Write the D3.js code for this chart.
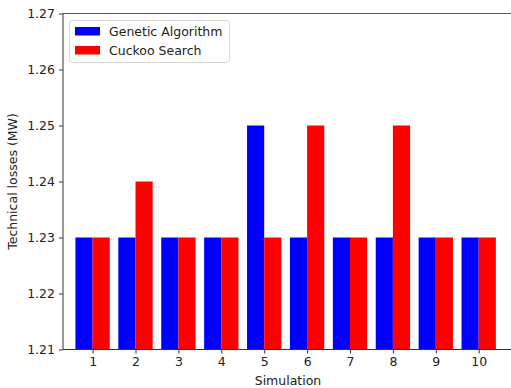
<!DOCTYPE html>
<html>
<head>
<meta charset="utf-8">
<script src="https://cdn.jsdelivr.net/npm/d3@7"></script>
<style>
  body { margin: 0; background: #fff; }
  text { font-family: "DejaVu Sans", sans-serif; fill: #222; }
</style>
</head>
<body>
<script>
var simulations = [1, 2, 3, 4, 5, 6, 7, 8, 9, 10];
var geneticAlgorithm = [1.23, 1.23, 1.23, 1.23, 1.25, 1.23, 1.23, 1.23, 1.23, 1.23];
var cuckooSearch = [1.23, 1.24, 1.23, 1.23, 1.23, 1.25, 1.23, 1.25, 1.23, 1.23];
var yTicks = [1.21, 1.22, 1.23, 1.24, 1.25, 1.26, 1.27];
var seriesNames = ["Genetic Algorithm", "Cuckoo Search"];
var seriesColors = ["#0000ff", "#ff0000"];

var width = 511, height = 388;
var plotLeft = 63, plotTop = 13.5, plotBottom = 349.5;
var unit = 42.9; // px per simulation step
var barW = 0.4;

var svg = d3.select("body").append("svg")
    .attr("width", width)
    .attr("height", height);

// setup scales
var xScale = d3.scaleLinear().domain([0.31, 10.9]).range([plotLeft, plotLeft + 10.59 * unit]);
var yScale = d3.scaleLinear().domain([1.21, 1.27]).range([plotBottom, plotTop]);

// bars
var series = [geneticAlgorithm, cuckooSearch];
series.forEach(function (vals, s) {
    svg.append("g").selectAll("rect")
        .data(vals)
        .enter().append("rect")
        .attr("x", function (d, i) { return xScale(simulations[i] + (s - 1) * barW); })
        .attr("width", xScale(barW) - xScale(0))
        .attr("y", function (d) { return yScale(d); })
        .attr("height", function (d) { return yScale(1.21) - yScale(d); })
        .style("fill", seriesColors[s]);
});

// y-axis
var yAxis = d3.axisLeft(yScale).tickValues(yTicks).tickFormat(d3.format(".2f")).tickSize(4).tickPadding(4);
var gy = svg.append("g")
    .attr("transform", "translate(" + plotLeft + ",0)")
    .call(yAxis);
gy.select(".domain").remove();
gy.selectAll("text").style("font-size", "12.5px");
gy.selectAll("line").attr("stroke", "#333");

// x-axis
var xAxis = d3.axisBottom(xScale).tickValues(simulations).tickSize(4).tickPadding(4);
var gx = svg.append("g")
    .attr("transform", "translate(0," + plotBottom + ")")
    .call(xAxis);
gx.select(".domain").remove();
gx.selectAll("text").style("font-size", "12.5px");
gx.selectAll("line").attr("stroke", "#333");

// spines
svg.append("line").attr("x1", plotLeft).attr("x2", plotLeft).attr("y1", plotTop).attr("y2", plotBottom)
    .attr("stroke", "#555").attr("stroke-width", 1.2);
svg.append("line").attr("x1", plotLeft).attr("x2", width).attr("y1", plotTop).attr("y2", plotTop)
    .attr("stroke", "#555").attr("stroke-width", 1.2);
svg.append("line").attr("x1", plotLeft).attr("x2", width).attr("y1", plotBottom).attr("y2", plotBottom)
    .attr("stroke", "#333").attr("stroke-width", 1.2);

// axis labels
svg.append("text")
    .attr("x", 288).attr("y", 385)
    .style("text-anchor", "middle").style("font-size", "12.5px")
    .text("Simulation");
svg.append("text")
    .attr("transform", "translate(17," + ((plotTop + plotBottom) / 2) + ") rotate(-90)")
    .style("text-anchor", "middle").style("font-size", "12.5px")
    .text("Technical losses (MW)");

// legend
var legend = svg.append("g").attr("transform", "translate(69,20)");
legend.append("rect")
    .attr("x", 0.5).attr("y", 0.5).attr("width", 160).attr("height", 42)
    .attr("rx", 3)
    .style("fill", "#fff").style("fill-opacity", 0.8)
    .style("stroke", "#d6d6d6");
seriesNames.forEach(function (name, i) {
    legend.append("rect")
        .attr("x", 6).attr("y", 7 + i * 19).attr("width", 25).attr("height", 8.5)
        .style("fill", seriesColors[i]);
    legend.append("text")
        .attr("x", 40).attr("y", 15.5 + i * 19)
        .style("font-size", "12.5px")
        .text(name);
});
</script>
</body>
</html>
